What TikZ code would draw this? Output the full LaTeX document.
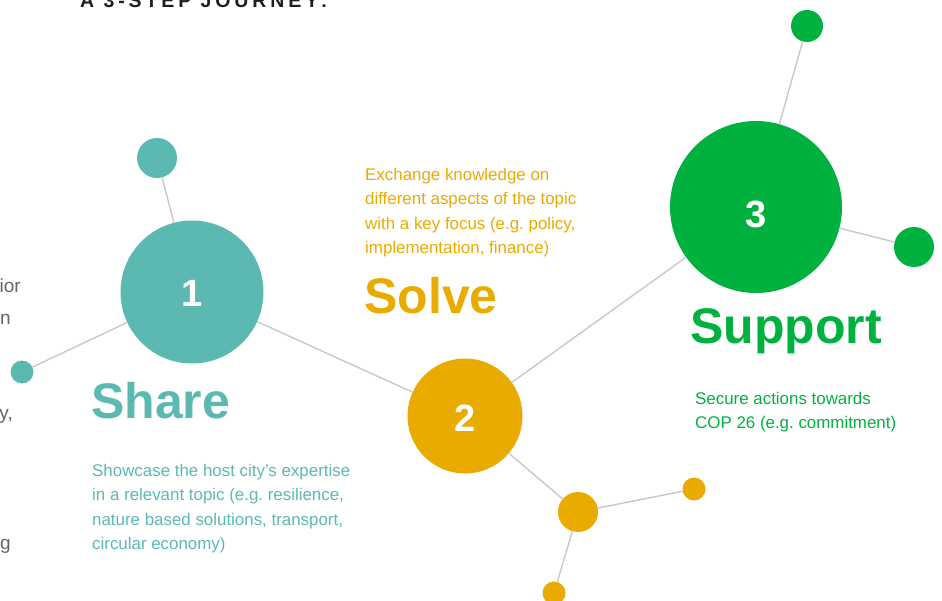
\documentclass[tikz,border=0pt]{standalone}
\usepackage{fontspec}
\setmainfont{Liberation Sans}
\newfontfamily\titlefont[LetterSpace=20]{Liberation Sans}
\definecolor{teal1}{RGB}{92,185,178}
\definecolor{gold1}{RGB}{233,171,0}
\definecolor{green1}{RGB}{0,177,64}
\definecolor{link}{RGB}{200,200,200}
\definecolor{frag}{RGB}{100,100,100}
\frenchspacing
\tikzset{
  dot/.style={circle, inner sep=0pt, draw=none},
  num/.style={text=white, font=\bfseries\fontsize{38}{38}\selectfont},
  link/.style={draw=link, line width=1.4pt},
  heading/.style={anchor=base west, inner sep=0pt, font=\bfseries\fontsize{50}{50}\selectfont},
  body/.style={anchor=north west, inner sep=0pt, align=left, font=\fontsize{16.9}{24.5}\selectfont},
  fragtext/.style={anchor=base east, inner sep=0pt, text=frag, font=\fontsize{19}{19}\selectfont}
}
\begin{document}
\begin{tikzpicture}[x=1pt,y=-1pt]
\useasboundingbox (0,0) rectangle (942,601);
\clip (0,0) rectangle (942,601);
% title (cut at top in the reference)
\node[anchor=base west, inner sep=0pt, text={rgb,255:red,30;green,30;blue,30}, font=\titlefont\bfseries\fontsize{19.5}{19.5}\selectfont] (title) at (80,8) {A 3-STEP JOURNEY:};
% fragments at left edge
\node[fragtext] (f1) at (21,293) {ior};
\node[fragtext] (f2) at (11,325) {n};
\node[fragtext] (f3) at (13,419) {y,};
\node[fragtext] (f4) at (11,549) {g};
% circles
\node[dot, fill=teal1, minimum size=143pt] (c1) at (192,292) {};
\node[dot, fill=teal1, minimum size=40pt] (t1) at (157,158) {};
\node[dot, fill=teal1, minimum size=23pt] (t2) at (22,372) {};
\node[dot, fill=gold1, minimum size=115pt] (c2) at (465,416) {};
\node[dot, fill=gold1, minimum size=40pt] (y1) at (578,512) {};
\node[dot, fill=gold1, minimum size=23pt] (y2) at (694,489) {};
\node[dot, fill=gold1, minimum size=23pt] (y3) at (554,593) {};
\node[dot, fill=green1, minimum size=172pt] (c3) at (756,207) {};
\node[dot, fill=green1, minimum size=32pt] (g1) at (807,26) {};
\node[dot, fill=green1, minimum size=40pt] (g2) at (914,247) {};
% numbers
\node[num] (n1) at ([yshift=-1.5]c1) {1};
\node[num] (n2) at ([yshift=-2.5]c2) {2};
\node[num] (n3) at ([yshift=-7.5]c3) {3};
% connectors
\draw[link] (c1) -- (t1);
\draw[link] (c1) -- (t2);
\draw[link] (c1) -- (c2);
\draw[link] (c2) -- (c3);
\draw[link] (c2) -- (y1);
\draw[link] (y1) -- (y2);
\draw[link] (y1) -- (y3);
\draw[link] (c3) -- (g1);
\draw[link] (c3) -- (g2);
% headings
\node[heading, text=teal1] (share) at (91,418) {Share};
\node[heading, text=gold1] (solve) at (364,314) {Solve};
\node[heading, text=green1] (support) at (690,344) {Support};
% body texts
\node[body, text=teal1] (sharetxt) at (92,464) {Showcase the host city’s expertise\\in a relevant topic (e.g. resilience,\\nature based solutions, transport,\\circular economy)};
\node[body, text=gold1] (solvetxt) at (365,168) {Exchange knowledge on\\different aspects of the topic\\with a key focus (e.g. policy,\\implementation, finance)};
\node[body, text=green1] (supporttxt) at (695,392) {Secure actions towards\\COP 26 (e.g. commitment)};
\end{tikzpicture}
\end{document}
